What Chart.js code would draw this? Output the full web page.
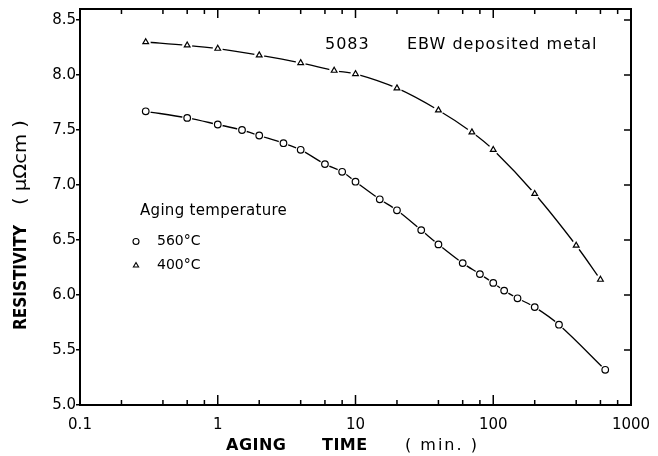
<!DOCTYPE html>
<html>
<head>
<meta charset="utf-8">
<script src="https://cdn.jsdelivr.net/npm/chart.js@4.4.1/dist/chart.umd.min.js"></script>
<style>
  html, body { margin: 0; padding: 0; background: #fff; }
  canvas { display: block; }
</style>
</head>
<body>
<canvas id="resistivityChart" width="658" height="456"></canvas>
<script>
// ========== DATA ==========
// aging time (min.) and resistivity (µΩcm), 5083 EBW deposited metal
const time560 = [0.3, 0.6, 1, 1.5, 2, 3, 4, 6, 8, 10, 15, 20, 30, 40, 60, 80, 100, 120, 150, 200, 300, 650];
const res560  = [7.67, 7.61, 7.55, 7.50, 7.45, 7.38, 7.32, 7.19, 7.12, 7.03, 6.87, 6.77, 6.59, 6.46, 6.29, 6.19, 6.11, 6.04, 5.97, 5.89, 5.73, 5.32];

const time400 = [0.3, 0.6, 1, 2, 4, 7, 10, 20, 40, 70, 100, 200, 400, 600];
const res400  = [8.30, 8.27, 8.24, 8.18, 8.11, 8.04, 8.01, 7.88, 7.68, 7.48, 7.32, 6.92, 6.45, 6.14];

const xTicks = [0.1, 1, 10, 100, 1000];
const xMinorTicks = [0.2, 0.4, 0.6, 0.8, 2, 4, 6, 8, 20, 40, 60, 80, 200, 400, 600, 800];
const yTicks = [5.0, 5.5, 6.0, 6.5, 7.0, 7.5, 8.0, 8.5];

const FONT = "'DejaVu Sans', sans-serif";

function toPoints(xs, ys) {
    return xs.map((x, i) => ({ x: x, y: ys[i] }));
}

// smooth curve with a white halo at each point so the line stops short of the markers
function curveSet(xs, ys) {
    return {
        data: toPoints(xs, ys),
        borderColor: '#000',
        borderWidth: 1.3,
        tension: 0.35,
        pointRadius: 5,
        pointBackgroundColor: '#fff',
        pointBorderWidth: 0,
        order: 2
    };
}

function markerSet(xs, ys, style, radius) {
    return {
        data: toPoints(xs, ys),
        showLine: false,
        pointStyle: style,
        pointRadius: radius,
        pointBackgroundColor: '#fff',
        pointBorderColor: '#000',
        pointBorderWidth: 1.2,
        order: 1
    };
}

// text squeezed along its own direction to a given length (narrow lettering)
function fitText(ctx, text, x, y, len) {
    const w = ctx.measureText(text).width;
    ctx.save();
    ctx.translate(x, y);
    ctx.scale(len / w, 1);
    ctx.fillText(text, 0, 0);
    ctx.restore();
}

// ========== FRAME, INNER TICKS AND TEXT ==========
const framePlugin = {
    id: 'frame',
    afterDraw(chart) {
        const { ctx, chartArea: a, scales } = chart;
        const xs = scales.x, ys = scales.y;
        ctx.save();
        ctx.strokeStyle = '#000';
        ctx.lineWidth = 2;
        ctx.strokeRect(a.left, a.top, a.right - a.left, a.bottom - a.top);

        ctx.lineWidth = 1.5;
        ctx.beginPath();
        xTicks.forEach(v => {
            const px = xs.getPixelForValue(v);
            ctx.moveTo(px, a.bottom); ctx.lineTo(px, a.bottom - 10);
            ctx.moveTo(px, a.top); ctx.lineTo(px, a.top + 9);
        });
        xMinorTicks.forEach(v => {
            const px = xs.getPixelForValue(v);
            ctx.moveTo(px, a.bottom); ctx.lineTo(px, a.bottom - 5);
            ctx.moveTo(px, a.top); ctx.lineTo(px, a.top + 5);
        });
        yTicks.forEach(v => {
            const py = ys.getPixelForValue(v);
            ctx.moveTo(a.right, py); ctx.lineTo(a.right - 7, py);
        });
        ctx.stroke();

        ctx.fillStyle = '#000';
        ctx.textBaseline = 'middle';

        // heading
        ctx.font = '16px ' + FONT;
        ctx.letterSpacing = '1px';
        ctx.fillText('5083', a.left + 245, a.top + 36);
        ctx.fillText('EBW deposited metal', a.left + 327, a.top + 36);

        // legend
        ctx.font = '15px ' + FONT;
        ctx.letterSpacing = '0.3px';
        ctx.fillText('Aging temperature', a.left + 60, a.top + 202);
        ctx.font = '14px ' + FONT;
        ctx.letterSpacing = '0px';
        ctx.fillText('560°C', a.left + 77, a.top + 232);
        ctx.fillText('400°C', a.left + 77, a.top + 256);

        ctx.lineWidth = 1.1;
        ctx.beginPath();
        ctx.arc(a.left + 56, a.top + 232.5, 3, 0, Math.PI * 2);
        ctx.stroke();
        const tx = a.left + 56, ty = a.top + 256.5, r = 3;
        ctx.beginPath();
        ctx.moveTo(tx, ty - r);
        ctx.lineTo(tx + r * 0.87, ty + r * 0.5);
        ctx.lineTo(tx - r * 0.87, ty + r * 0.5);
        ctx.closePath();
        ctx.stroke();

        // x axis title
        ctx.textBaseline = 'alphabetic';
        ctx.font = 'bold 16px ' + FONT;
        ctx.letterSpacing = '0.5px';
        ctx.fillText('AGING', a.left + 146, a.bottom + 45);
        ctx.fillText('TIME', a.left + 242, a.bottom + 45);
        ctx.font = '16px ' + FONT;
        ctx.letterSpacing = '2px';
        ctx.fillText('( min. )', a.left + 325, a.bottom + 45);

        // y axis title, reading upwards
        ctx.letterSpacing = '0px';
        ctx.translate(26, a.top + 321);
        ctx.rotate(-Math.PI / 2);
        ctx.font = 'bold 17px ' + FONT;
        fitText(ctx, 'RESISTIVITY', 0, 0, 105);
        ctx.font = '17px ' + FONT;
        fitText(ctx, '( μΩcm )', 125, 0, 85);
        ctx.restore();
    }
};

// ========== CHART ==========
const ctx = document.getElementById('resistivityChart').getContext('2d');
const chart = new Chart(ctx, {
    type: 'line',
    data: {
        datasets: [
            curveSet(time560, res560),
            markerSet(time560, res560, 'circle', 3.3),
            curveSet(time400, res400),
            markerSet(time400, res400, 'triangle', 3.3)
        ]
    },
    options: {
        responsive: false,
        animation: false,
        devicePixelRatio: 1,
        events: [],
        layout: { padding: { left: 0, right: 27, top: 9, bottom: 0 } },
        plugins: {
            legend: { display: false },
            tooltip: { enabled: false }
        },
        scales: {
            x: {
                type: 'logarithmic',
                min: 0.1,
                max: 1000,
                afterBuildTicks: scale => { scale.ticks = xTicks.map(v => ({ value: v })); },
                afterFit: scale => { scale.height = 51; },
                grid: { display: false },
                border: { display: false },
                ticks: {
                    color: '#000',
                    font: { family: FONT, size: 15 },
                    padding: 3,
                    maxRotation: 0,
                    autoSkip: false,
                    callback: v => String(v)
                }
            },
            y: {
                type: 'linear',
                min: 5.0,
                max: 8.6,
                afterBuildTicks: scale => { scale.ticks = yTicks.map(v => ({ value: v })); },
                afterFit: scale => { scale.width = 80; },
                grid: {
                    drawOnChartArea: false,
                    drawTicks: true,
                    tickLength: 4,
                    color: '#000',
                    lineWidth: 1.5
                },
                border: { display: false },
                ticks: {
                    color: '#000',
                    font: { family: FONT, size: 15 },
                    padding: 0,
                    autoSkip: false,
                    callback: v => v.toFixed(1)
                }
            }
        }
    },
    plugins: [framePlugin]
});
</script>
</body>
</html>
